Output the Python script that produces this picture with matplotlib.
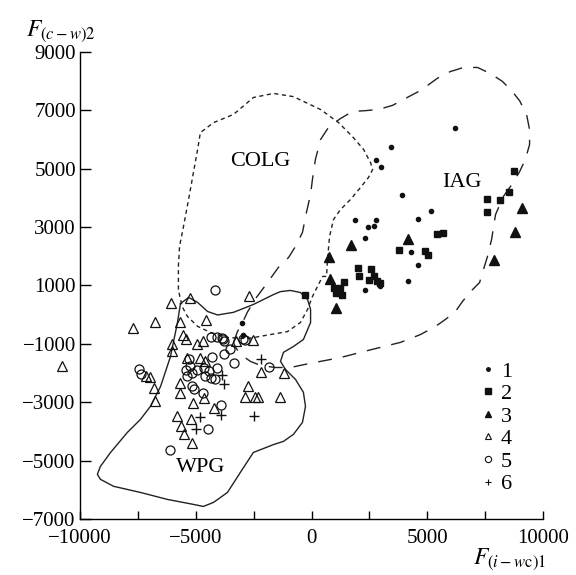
import numpy as np
import matplotlib
matplotlib.use('Agg')
import matplotlib.pyplot as plt
from matplotlib.lines import Line2D

plt.rcParams['font.family'] = ['Liberation Serif', 'DejaVu Serif']
plt.rcParams['mathtext.fontset'] = 'stix'
plt.rcParams['axes.unicode_minus'] = True

# --- data ---
# 1: small filled dots
g1_x = [6200, 3450, 2800, 3020, 3930, 1860, 2790, 2430, 2680, 2290, 4610, 5180,
        4280, 4610, 4190, 2290, 2940, -2990, -2950]
g1_y = [6400, 5750, 5300, 5050, 4100, 3250, 3250, 3000, 3030, 2610, 3280, 3540,
        2140, 1700, 1170, 860, 970, -280, -680]
# 2: filled squares
g2_x = [8740, 8540, 8140, 7590, 7560, 5430, 5670, 3800, 4920, 5040, 2000, 2550,
        2070, 2480, 2690, 2840, 2950, 960, 1180, 1400, 1330, 1040, 1250, -260]
g2_y = [4930, 4210, 3920, 3950, 3530, 2780, 2800, 2220, 2170, 2030, 1610, 1570,
        1320, 1200, 1320, 1150, 1090, 920, 860, 1110, 690, 750, 900, 690]
# 3: filled triangles
g3_x = [9100, 8780, 7880, 4170, 1690, 750, 820, 1040]
g3_y = [3660, 2830, 1890, 2600, 2370, 1970, 1230, 240]
# 4: open triangles
g4_x = [-6060, -5270, -2710, -7720, -6740, -5700, -4540, -5560, -5410, -4940,
        -4680, -6020, -6020, -3280, -2540, -10770, -7170, -6980, -6810, -6780,
        -5700, -5660, -5370, -4800, -4620, -5130, -4650, -5830, -5620, -5490,
        -5180, -5200, -4220, -2880, -2420, -2300, -1370, -2750, -2160, -1170]
g4_y = [410, 555, 630, -470, -240, -240, -190, -710, -830, -1020,
        -910, -1020, -1250, -910, -880, -1760, -2100, -2140, -2500, -2960,
        -2330, -2670, -1480, -1480, -1590, -3010, -2850, -3480, -3820, -4100,
        -4410, -3590, -3190, -2830, -2810, -2830, -2810, -2450, -1960, -1990]
# 5: open circles
g5_x = [-4150, -7460, -7350, -4360, -4100, -3860, -3760, -3500, -3760, -3360,
        -5300, -5230, -5440, -5370, -5150, -4940, -4650, -4580, -4360, -4070,
        -4440, -4290, -5150, -5080, -4700, -4150, -3930, -4480, -6120, -1840,
        -2880, -3810, -2950]
g5_y = [830, -1850, -2020, -760, -760, -790, -910, -1190, -1360, -1650,
        -1530, -1760, -1880, -2110, -2000, -1880, -1820, -2110, -2160, -1820,
        -1930, -1440, -2450, -2560, -2670, -2220, -3080, -3900, -4620, -1780,
        -870, -850, -830]
# 6: plus signs
g6_x = [-3860, -3760, -4830, -4970, -3930, -2490, -2170]
g6_y = [-2050, -2360, -3520, -3920, -3420, -3480, -1520]

# field boundaries
colg_x = [-5750, -5750, -5700, -5530, -5310, -5100, -4920, -4800, -4230, -3370,
          -2510, -1640, -780, 390, 1170, 1770, 2250, 2550, 2640, 2460, 2120,
          1690, 1250, 950, 780, 690, 650, 480, 260, 40, -170, -480, -1040,
          -1770, -2760, -3630, -4360, -4920, -5360, -5570, -5660, -5750]
colg_y = [860, 1650, 2340, 3020, 3950, 4870, 5660, 6240, 6580, 6860,
          7440, 7580, 7470, 7030, 6580, 6100, 5660, 5210, 4970, 4700, 4360,
          3950, 3600, 3260, 2680, 1890, 1310, 1310, 970, 620, 180, -270, -580,
          -680, -820, -780, -610, -400, -60, 250, 520, 860]
iag_x = [-3370, -3200, -2980, -2760, -2380, -1900, -1430, -990, -690, -390,
         -220, -40, 40, 170, 390, 730, 1250, 1770, 2330, 2890, 3500, 4060, 4710,
         5440, 6000, 6570, 7170, 7730, 8250, 8680, 8990, 9290, 9420, 9420, 9240,
         8990, 8680, 8290, 7950, 7780, 7600, 7430, 7260, 6870, 6520, 6220, 5790,
         5360, 4710, 3840, 2980, 2120, 1250, 390, -260, -910, -1560, -2200,
         -2640, -3070, -3280, -3370]
iag_y = [-950, -580, -270, 100, 590, 1100, 1620, 1960, 2340, 2820,
         3500, 4120, 4630, 5320, 6000, 6410, 6720, 6960, 6990, 7030, 7170, 7410,
         7680, 8100, 8330, 8470, 8470, 8260, 7990, 7640, 7330, 6860, 6340, 5830,
         5320, 4900, 4490, 4050, 3430, 2580, 1990, 1550, 1100, 790, 450, 110,
         -160, -400, -680, -950, -1120, -1290, -1470, -1600, -1700, -1810, -1810,
         -1740, -1600, -1360, -1120, -950]
wpg_x = [-5660, -5310, -4920, -4490, -4060, -3370, -2510, -1640, -1340, -910,
         -480, -170, -40, -40, -350, -780, -1210, -1340, -1120, -690, -350, -260,
         -390, -780, -1210, -1640, -2510, -3070, -3630, -4230, -4670, -5100,
         -6220, -7390, -8550, -9120, -9250, -9120, -8680, -7950, -7390, -6960,
         -6520, -6090, -5790, -5660]
wpg_y = [380, 590, 420, 110, -10, 80, 350, 690, 790, 830,
         760, 520, 180, -270, -850, -1090, -1290, -1600, -1880, -2220, -2660, -3140,
         -3690, -4100, -4340, -4450, -4720, -5400, -6090, -6430, -6570, -6500,
         -6330, -6090, -5880, -5640, -5470, -5200, -4720, -4030, -3590, -3140,
         -2460, -1430, -270, 380]

fig = plt.figure(figsize=(5.76, 5.75), dpi=100)
ax = fig.add_axes([0.1389, 0.0974, 0.8038, 0.8122])

ax.plot(colg_x, colg_y, color='#222222', lw=1.0, linestyle=(0, (3, 2.5)))
ax.plot(iag_x, iag_y, color='#222222', lw=1.0, linestyle=(0, (10, 8)))
ax.plot(wpg_x, wpg_y, color='#222222', lw=1.0)

k = dict(linestyle='none', clip_on=False, color='#111111')
ax.plot(g1_x, g1_y, marker='o', ms=3, **k)
ax.plot(g2_x, g2_y, marker='s', ms=5, **k)
ax.plot(g3_x, g3_y, marker='^', ms=6.5, **k)
ax.plot(g4_x, g4_y, marker='^', ms=7, mfc='none', mew=0.9, **k)
ax.plot(g5_x, g5_y, marker='o', ms=6.5, mfc='none', mew=0.9, **k)
ax.plot(g6_x, g6_y, marker='+', ms=7, mew=1.0, **k)

ax.text(-2200, 5250, 'COLG', fontsize=16, ha='center', va='center')
ax.text(6480, 4530, 'IAG', fontsize=16, ha='center', va='center')
ax.text(-4800, -5230, 'WPG', fontsize=16, ha='center', va='center')

handles = [
    Line2D([], [], ls='none', marker='o', ms=2.5, color='#111111'),
    Line2D([], [], ls='none', marker='s', ms=4, color='#111111'),
    Line2D([], [], ls='none', marker='^', ms=5, color='#111111'),
    Line2D([], [], ls='none', marker='^', ms=5, mfc='none', mew=0.8, color='#111111'),
    Line2D([], [], ls='none', marker='o', ms=4.5, mfc='none', mew=0.8, color='#111111'),
    Line2D([], [], ls='none', marker='+', ms=5, mew=0.8, color='#111111'),
]
ax.legend(handles, ['1', '2', '3', '4', '5', '6'], loc='upper left',
          bbox_to_anchor=(0.842, 0.362), frameon=False, fontsize=16,
          handlelength=0.6, handletextpad=0.3, labelspacing=0.09, borderpad=0)

ax.set_xlim(-10000, 10000)
ax.set_ylim(-7000, 9000)
ax.set_xticks([-10000, -5000, 0, 5000, 10000])
ax.set_xticks([-7500, -2500, 2500, 7500], minor=True)
ax.set_yticks(np.arange(-7000, 9001, 2000))
ax.tick_params(axis='both', which='both', direction='in', labelsize=15, width=1)
ax.tick_params(axis='x', which='both', length=6, pad=7)
ax.tick_params(axis='y', length=8, pad=3)
for s in ['top', 'right']:
    ax.spines[s].set_visible(False)
for s in ['left', 'bottom']:
    ax.spines[s].set_linewidth(1.0)

fig.text(0.045, 0.938, r'$F_{(c-w)2}$', fontsize=17, ha='left', va='baseline')
fig.text(0.822, 0.02, r'$F_{(i-w\mathrm{c})1}$', fontsize=17, ha='left', va='baseline')

plt.savefig('out.png', dpi=100)
